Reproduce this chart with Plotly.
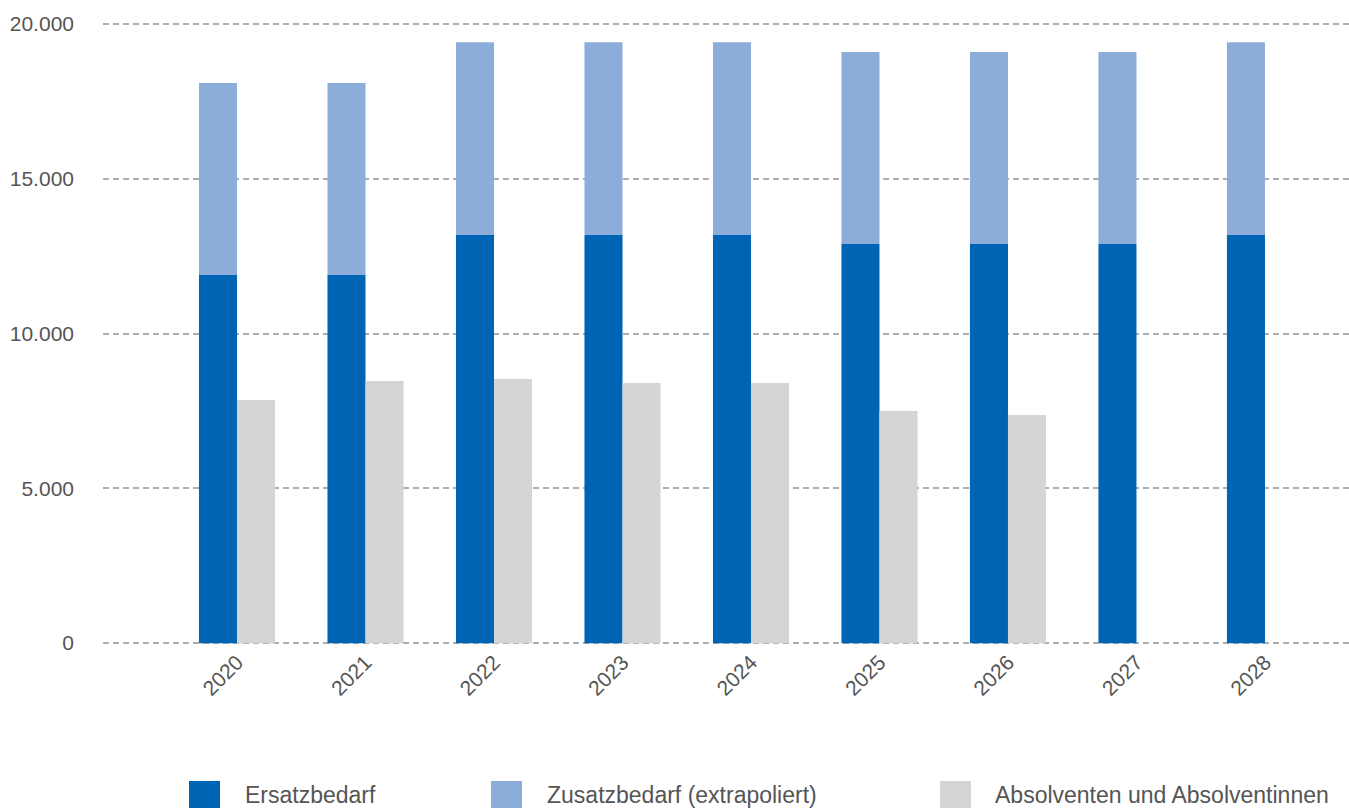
import plotly.graph_objects as go

# Jahre und Werte
jahre = ["2020", "2021", "2022", "2023", "2024", "2025", "2026", "2027", "2028"]
ersatzbedarf = [11890, 11890, 13180, 13180, 13180, 12890, 12890, 12890, 13180]
zusatzbedarf = [6200, 6200, 6230, 6230, 6230, 6200, 6200, 6200, 6230]
absolventen = [7850, 8470, 8530, 8400, 8400, 7500, 7370, None, None]

serien_namen = ["Ersatzbedarf", "Zusatzbedarf (extrapoliert)", "Absolventen und Absolventinnen"]
farben = ["#0064b4", "#8cadda", "#d5d5d5"]
y_ticks = [0, 5000, 10000, 15000, 20000]

W, H = 1349, 808
ML, MR, MT, MB = 103, 0, 22, 163
PW, PH = W - ML - MR, H - MT - MB

BW = 0.296  # Balkenbreite in Kategorieeinheiten
FONT = "Liberation Sans, Arial, Helvetica, sans-serif"
TXT = "#555555"

fig = go.Figure()
fig.add_trace(go.Bar(x=jahre, y=ersatzbedarf, name=serien_namen[0],
                     marker=dict(color=farben[0], line=dict(width=0)),
                     width=BW, offset=-BW, showlegend=False))
fig.add_trace(go.Bar(x=jahre, y=zusatzbedarf, base=ersatzbedarf, name=serien_namen[1],
                     marker=dict(color=farben[1], line=dict(width=0)),
                     width=BW, offset=-BW, showlegend=False))
fig.add_trace(go.Bar(x=jahre, y=absolventen, name=serien_namen[2],
                     marker=dict(color=farben[2], line=dict(width=0)),
                     width=BW, offset=0, showlegend=False))


def px_x(p):
    return (p - ML) / PW


def px_y(p):
    return (H - MB - p) / PH


# Legende als Farbfelder mit Beschriftung unter der Grafik
legende_pos = [(189, 243), (491, 545), (940, 993)]
for (sx, tx), name, farbe in zip(legende_pos, serien_namen, farben):
    fig.add_shape(type="rect", xref="paper", yref="paper",
                  x0=px_x(sx), x1=px_x(sx + 31), y0=px_y(781), y1=px_y(812),
                  fillcolor=farbe, line=dict(width=0), layer="above")
    fig.add_annotation(xref="paper", yref="paper", x=px_x(tx), y=px_y(795),
                       xanchor="left", yanchor="middle", showarrow=False,
                       text=name, font=dict(family=FONT, size=23, color=TXT))

fig.update_layout(
    width=W, height=H,
    margin=dict(l=ML, r=MR, t=MT, b=MB, pad=0),
    barmode="overlay",
    plot_bgcolor="white", paper_bgcolor="white",
    separators=",.",
    font=dict(family=FONT, size=21, color=TXT),
    xaxis=dict(type="category", range=[-1.043, 8.654], showgrid=False,
               showline=False, zeroline=False, ticks="", tickangle=-45,
               tickfont=dict(size=21, color=TXT), fixedrange=True),
    yaxis=dict(range=[-60, 20060], tickvals=y_ticks, tickformat=",d",
               showgrid=True, gridcolor="#adadad", gridwidth=1.6,
               griddash="6px,4px", zeroline=False, showline=False, ticks="",
               ticklabelstandoff=28,
               tickfont=dict(size=21, color=TXT), fixedrange=True),
)

fig.write_html("out.html")
